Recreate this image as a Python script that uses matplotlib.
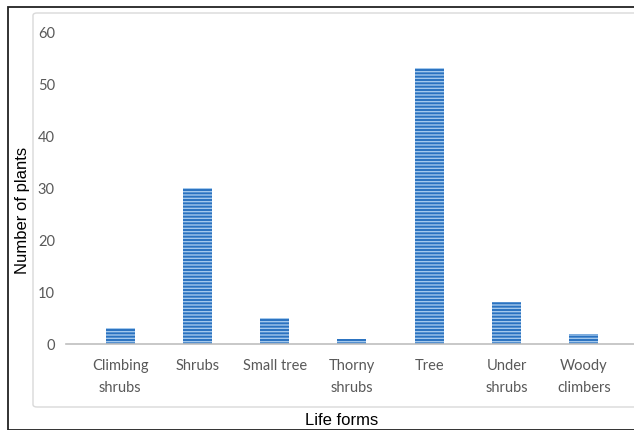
import matplotlib.pyplot as plt
from matplotlib.patches import Rectangle, FancyBboxPatch

# Data
life_forms = ['Climbing\nshrubs', 'Shrubs', 'Small tree', 'Thorny\nshrubs',
              'Tree', 'Under\nshrubs', 'Woody\nclimbers']
n_plants = [3, 30, 5, 1, 53, 8, 2]

plt.rcParams['hatch.color'] = '#a3c8ec'
plt.rcParams['hatch.linewidth'] = 1.0

W, H = 634, 431
fig = plt.figure(figsize=(W / 100, H / 100), dpi=100)

# outer black frame and inner gray chart box
fig.patches.append(Rectangle((8 / W, 0), 1.2, 1 - 8 / H, transform=fig.transFigure,
                             fill=False, edgecolor='#222222', linewidth=1.3))
fig.patches.append(FancyBboxPatch((33 / W, 1 - 408 / H), 1.0, (408 - 14) / H,
                                  boxstyle='round,pad=0,rounding_size=0.006',
                                  transform=fig.transFigure, fill=False,
                                  edgecolor='#d9d9d9', linewidth=1.0))

ax = fig.add_axes([66 / W, 1 - 345 / H, 1 - 66 / W, (345 - 33) / H])
x = range(len(life_forms))
ax.bar(x, n_plants, width=0.375, color='#2a72c0', hatch='-----',
       edgecolor='#a3c8ec', linewidth=0)

ax.set_xlim(-0.7, 6.65)
ax.set_ylim(0, 60)
ax.set_yticks(range(0, 61, 10))
ax.set_xticks(list(x))
ax.set_xticklabels(life_forms, fontsize=10.5, color='#595959', family='Lato',
                   linespacing=1.7)
ax.tick_params(axis='y', labelsize=10.5, labelcolor='#595959', length=0, pad=8)
ax.tick_params(axis='x', length=0, pad=10)
for lbl in ax.get_yticklabels():
    lbl.set_family('Lato')

for s in ['top', 'right', 'left']:
    ax.spines[s].set_visible(False)
ax.spines['bottom'].set_color('#bfbfbf')
ax.spines['bottom'].set_linewidth(1.2)
ax.grid(False)

fig.text(23 / W, 1 - 210 / H, 'Number of plants', rotation=90, ha='center',
         va='center', fontsize=12, family='Liberation Sans')
fig.text(342 / W, 1 - 421 / H, 'Life forms', ha='center', va='center',
         fontsize=12, family='Liberation Sans')

fig.savefig('out.png', dpi=100)
